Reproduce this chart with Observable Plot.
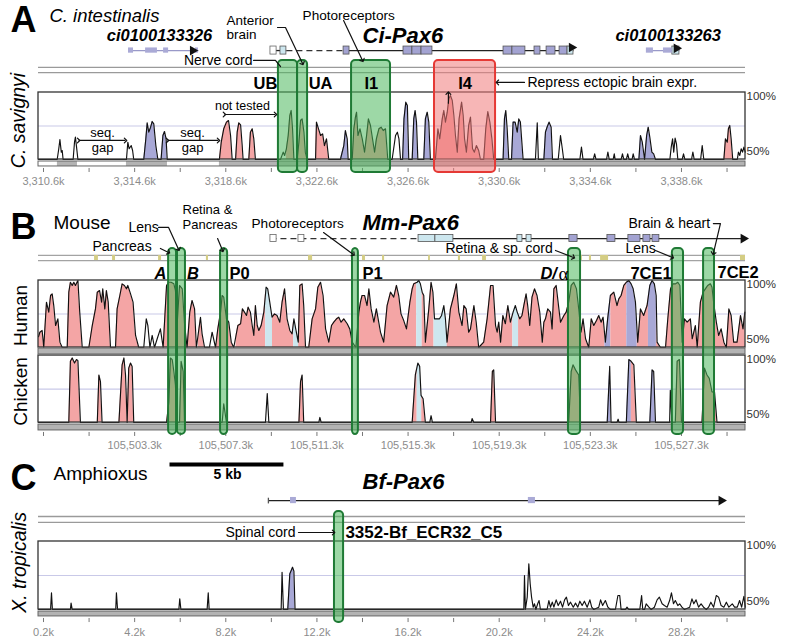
<!DOCTYPE html>
<html><head><meta charset="utf-8">
<script src="https://cdn.jsdelivr.net/npm/d3@7"></script>
<script src="https://cdn.jsdelivr.net/npm/@observablehq/plot@0.6"></script>
<style>
body{margin:0;background:#fff;}
#fig{position:relative;width:787px;height:643px;overflow:hidden;background:#fff;}
</style></head><body><div id="fig"></div>
<script>
// ---------- DATA (x in kb offset from the first labelled tick, y in % identity) ----------
const majorTicks = [0, 4, 8, 12, 16, 20, 24, 28];
const minorTicks = [2, 6, 10, 14, 18, 22, 26, 30];
const aTickLabels = ["3,310.6k","3,314.6k","3,318.6k","3,322.6k","3,326.6k","3,330.6k","3,334.6k","3,338.6k"];
const bTickLabels = ["","105,503.3k","105,507.3k","105,511.3k","105,515.3k","105,519.3k","105,523.3k","105,527.3k"];
const cTickLabels = ["0.2k","4.2k","8.2k","12.2k","16.2k","20.2k","24.2k","28.2k"];

// Panel A: C. intestinalis vs C. savignyi
const aCurve = [[-0.22,50],
[0.60,50],[0.67,58.0],[0.72,64.9],[0.78,55.5],[0.82,56.7],[0.86,50],
[1.30,50],[1.36,62.9],[1.40,66.7],[1.45,59.2],[1.51,50],
[3.64,50],[3.70,62.9],[3.76,58.0],[3.85,60.4],[3.91,56.7],[3.96,50],
[4.40,50],[4.49,65.4],[4.55,77.4],[4.62,70.4],[4.70,74.1],[4.77,78.4],[4.84,76.6],[4.93,60.4],[5.02,50],
[5.16,50],[5.24,67.9],[5.31,70.9],[5.38,65.4],[5.43,50],
[7.72,50],[7.80,62.9],[7.91,72.9],[8.03,77.9],[8.12,79.1],[8.21,67.9],[8.28,50],
[8.43,50],[8.50,70.4],[8.57,77.4],[8.65,75.9],[8.72,60.4],[8.76,50],
[9.01,50],[9.08,70.4],[9.16,72.9],[9.23,65.4],[9.30,50],
[10.40,50],[10.52,55.5],[10.58,53.0],[10.66,58.0],[10.74,67.9],[10.81,82.8],[10.87,86.6],[10.93,72.9],[10.99,50],
[11.13,50],[11.21,62.9],[11.28,79.1],[11.35,80.3],[11.43,70.4],[11.49,55.5],[11.57,50],
[11.94,50],[11.98,77.9],[12.07,72.9],[12.16,67.9],[12.25,69.1],[12.33,60.4],[12.42,65.4],[12.52,50],
[13.03,50],[13.18,60.4],[13.25,71.6],[13.33,65.4],[13.37,50],
[13.55,50],[13.62,72.9],[13.69,81.6],[13.74,85.3],[13.80,67.9],[13.89,72.9],[13.99,65.4],[14.09,55.5],[14.18,67.9],[14.26,80.3],[14.35,75.4],[14.44,65.4],[14.53,55.5],[14.61,65.4],[14.72,72.9],[14.82,74.1],[14.91,71.6],[15.01,72.9],[15.11,50],
[15.30,50],[15.45,67.9],[15.53,70.4],[15.60,65.4],[15.67,50],
[15.76,50],[15.82,80.3],[15.90,92.8],[15.97,90.3],[16.03,50],
[16.18,50],[16.25,80.3],[16.31,86.6],[16.37,77.9],[16.43,50],
[16.69,50],[16.76,80.3],[16.84,85.3],[16.91,77.9],[16.98,50],
[17.20,50],[17.31,72.9],[17.39,65.4],[17.50,80.3],[17.57,86.6],[17.64,77.9],[17.72,85.3],[17.79,95.3],[17.86,97.8],[17.94,94.0],[18.01,82.8],[18.08,67.9],[18.16,55.5],[18.24,80.3],[18.35,92.8],[18.42,82.8],[18.48,65.4],[18.56,55.5],[18.66,75.4],[18.74,81.6],[18.83,58.0],[18.91,55.5],[19.00,60.4],[19.10,56.7],[19.18,50],
[19.32,50],[19.41,72.9],[19.50,85.8],[19.59,77.9],[19.68,65.4],[19.76,50],
[20.17,50],[20.23,80.3],[20.29,86.6],[20.35,72.9],[20.42,50],
[20.54,50],[20.61,77.9],[20.70,77.9],[20.79,70.4],[20.86,80.3],[20.93,77.9],[21.05,50],
[21.59,50],[21.67,77.4],[21.72,50],
[21.96,50],[22.03,70.4],[22.10,74.1],[22.19,77.9],[22.28,74.1],[22.34,50],
[22.59,50],[22.69,67.9],[22.77,58.0],[22.83,50],
[23.54,50],[23.61,59.2],[23.68,50],
[24.13,50],[24.19,54.2],[24.25,50],
[24.71,50],[24.77,55.5],[24.83,50],
[25.00,50],[25.05,54.2],[25.09,50],
[25.35,50],[25.41,54.2],[25.47,50],
[25.58,50],[25.64,54.2],[25.70,50],
[25.83,50],[25.88,54.2],[25.94,50],
[26.13,50],[26.20,67.9],[26.28,62.9],[26.38,50],[26.47,67.9],[26.54,74.1],[26.61,66.7],[26.70,55.5],[26.78,54.2],[26.86,50],
[27.49,50],[27.55,59.2],[27.61,65.4],[27.66,55.5],[27.72,65.9],[27.78,61.7],[27.84,50],
[28.03,50],[28.09,54.2],[28.15,50],
[28.44,50],[28.50,55.5],[28.56,50],
[28.84,50],[28.91,60.4],[28.98,50],
[29.86,50],[29.93,65.4],[30.01,62.9],[30.06,72.9],[30.12,75.4],[30.18,65.4],[30.25,50],
[30.45,50],[30.50,55.5],[30.56,53.0],[30.62,58.0],[30.68,55.5],[30.74,59.2],[30.80,55.5]];
const aFills = [[4.40,5.43,"exon"],[7.72,9.30,"cns"],[10.66,11.57,"cns"],[11.94,12.52,"cns"],[13.03,13.37,"exon"],
[13.55,15.11,"cns"],[15.76,16.98,"exon"],[17.20,19.76,"cns"],[20.17,21.05,"exon"],[21.96,22.34,"exon"],[26.13,26.86,"exon"],[29.86,30.25,"cns"]];
const aSeqPresent = [[0.61,1.49],[3.64,5.44],[7.72,30.81]];
const aGeneLines = [[3.73,6.80,"pred"],[9.96,10.66,"solid"],[10.66,13.17,"dashed"],[13.17,23.26,"solid"],[26.46,27.91,"pred"]];
const aExons = [[3.73,3.95,"pred"],[4.48,5.00,"pred"],[5.27,5.49,"pred"],[6.67,6.80,"pred"],
[9.96,10.23,"open"],[10.40,10.66,"utr"],[13.17,13.43,"exon"],[15.80,16.19,"exon"],[16.19,16.59,"exon"],[16.59,17.07,"exon"],
[20.19,20.58,"exon"],[20.58,21.15,"exon"],[21.55,21.81,"exon"],[22.08,22.47,"exon"],[22.65,23.00,"exon"],[23.00,23.26,"utr"],
[26.46,26.77,"pred"],[27.21,27.60,"pred"],[27.60,27.91,"utr"]];
const aRegions = [{name:"UB",start:10.31,end:11.15,kind:"enh"},{name:"",start:11.15,end:11.59,kind:"enh"},
{name:"I1",start:13.52,end:15.23,kind:"enh"},{name:"I4",start:17.16,end:19.84,kind:"rep"}];

// Panel B: mouse vs human / chicken
const bHuman = [[-0.22,58],[-0.16,61.4],[-0.06,62.7],[0.01,50.2],[0.13,83.8],[0.23,76.4],[0.31,88.8],[0.38,90.0],[0.45,81.3],[0.53,66.4],[0.63,71.4],[0.72,54.0],[0.82,50],
[1.04,50],[1.11,91.3],[1.18,98.7],[1.26,96.3],[1.33,98.7],[1.40,96.3],[1.51,100],[1.59,76.4],[1.70,50],
[1.99,50],[2.14,66.4],[2.28,78.8],[2.36,91.3],[2.46,92.5],[2.55,83.8],[2.60,93.8],[2.69,78.8],[2.76,92.5],[2.84,83.8],[2.94,50],
[3.16,50],[3.23,78.8],[3.35,88.8],[3.45,97.5],[3.55,96.3],[3.64,93.8],[3.70,96.3],[3.82,90.0],[3.93,83.8],[4.04,59.0],[4.18,50],
[4.40,50],[4.51,71.4],[4.58,66.4],[4.67,50],[4.77,59.0],[4.87,50],[4.99,56.5],[5.13,63.9],[5.25,50],
[5.40,96.3],[5.50,98.7],[5.60,98.7],[5.72,97.5],[5.79,92.5],[5.87,68.9],[5.97,96.3],[6.09,93.8],[6.19,67.7],[6.30,50],
[6.42,76.4],[6.52,85.1],[6.63,78.8],[6.71,50],[6.89,72.6],[6.96,60.2],[7.07,50],[7.28,50],[7.40,61.4],[7.55,50],
[7.65,63.9],[7.77,76.4],[7.84,88.8],[7.91,87.6],[8.03,71.4],[8.13,68.9],[8.24,54.0],[8.35,50],
[8.53,66.4],[8.65,67.7],[8.73,78.8],[8.82,76.4],[8.91,73.9],[8.98,80.1],[9.08,76.4],[9.16,66.4],[9.23,59.0],[9.30,81.3],[9.38,66.4],[9.45,62.7],[9.55,66.4],[9.67,76.4],
[9.77,95.0],[9.84,93.8],[9.93,83.8],[10.03,72.6],[10.14,75.1],[10.25,73.9],[10.37,68.9],[10.47,83.8],[10.58,93.8],[10.69,71.4],[10.81,62.7],[10.91,60.2],[10.99,71.4],[11.07,63.9],[11.18,54.0],
[11.25,96.3],[11.35,97.5],[11.42,81.3],[11.50,50],[11.64,50],[11.79,71.4],[11.94,78.8],[12.04,95.0],[12.16,98.7],[12.27,88.8],[12.38,63.9],[12.52,54.0],
[12.64,66.4],[12.74,68.9],[12.86,71.4],[12.96,72.6],[13.06,68.9],[13.18,71.4],[13.33,67.7],[13.44,63.9],[13.55,54.0],[13.71,50],
[13.84,76.4],[13.91,83.8],[13.98,88.8],[14.09,88.8],[14.20,81.3],[14.28,93.8],[14.38,78.8],[14.50,68.9],[14.61,78.8],
[14.79,61.4],[14.93,54.0],[15.08,81.3],[15.23,91.3],[15.37,87.6],[15.49,96.3],[15.59,88.8],[15.69,75.1],[15.81,70.1],[15.93,63.9],
[16.08,83.8],[16.18,93.8],[16.25,97.5],[16.40,98.7],[16.47,100],[16.54,97.5],[16.62,91.3],[16.69,88.8],[16.76,54.0],[16.91,78.8],
[17.01,98.7],[17.09,91.3],[17.16,71.4],[17.28,71.4],[17.38,71.4],[17.47,73.9],[17.57,81.3],[17.64,71.4],[17.71,54.0],[17.86,78.8],
[18.01,88.8],[18.12,97.5],[18.23,76.4],[18.37,66.4],[18.45,81.3],[18.55,78.8],[18.66,61.4],[18.74,63.9],[18.89,81.3],[18.99,68.9],
[19.10,50],[19.32,54.0],[19.47,71.4],[19.62,96.3],[19.73,96.3],[19.84,66.4],[19.91,61.4],[19.98,68.9],[20.06,54.0],[20.16,73.9],
[20.27,67.7],[20.38,81.3],[20.49,68.9],[20.61,76.4],[20.71,81.3],[20.79,76.4],[20.90,71.4],[21.00,73.9],[21.08,81.3],[21.18,90.0],
[21.25,81.3],[21.34,66.4],[21.44,87.6],[21.55,93.8],[21.66,88.8],[21.78,76.4],[21.89,54.0],[21.96,68.9],[22.03,71.4],[22.13,78.8],
[22.25,76.4],[22.32,63.9],[22.40,93.8],[22.50,96.3],[22.62,78.8],[22.69,68.9],[22.84,73.9],[22.94,76.4],[23.05,83.8],[23.16,96.3],
[23.27,98.7],[23.39,93.8],[23.49,78.8],[23.59,61.4],[23.68,71.4],[23.79,56.5],[23.93,50],[24.04,71.4],[24.15,66.4],[24.27,70.1],
[24.37,73.9],[24.47,68.9],[24.56,72.6],[24.66,54.0],[24.76,71.4],[24.88,88.8],[25.03,91.3],[25.17,81.3],[25.25,86.3],[25.35,88.8],
[25.47,96.3],[25.58,98.7],[25.69,100],[25.79,97.5],[25.88,93.8],[25.98,83.8],[26.08,54.0],[26.20,78.8],[26.34,73.9],[26.49,81.3],
[26.61,96.3],[26.71,100],[26.81,97.5],[26.89,88.8],[26.93,54.0],[27.08,50],[27.30,50],[27.40,71.4],[27.52,93.8],[27.63,97.5],
[27.74,97.5],[27.84,98.7],[27.93,96.3],[28.03,54.0],[28.13,71.4],[28.25,68.9],[28.39,71.4],[28.47,56.5],[28.61,66.4],[28.69,50],
[28.83,83.8],[28.95,91.3],[29.05,93.8],[29.15,96.3],[29.27,97.5],[29.34,95.0],[29.41,83.8],[29.53,68.9],[29.63,59.0],[29.74,63.9],
[29.86,54.0],[29.97,50],[30.08,78.8],[30.18,73.9],[30.29,54.0],[30.44,54.0],[30.59,73.9],[30.70,63.9],[30.78,76.4]];
const bHumanFills = [[-0.22,0.85,"cns"],[1.04,1.72,"cns"],[1.99,2.95,"cns"],[3.16,4.18,"cns"],[5.25,6.30,"cns"],[6.30,6.71,"cns"],[6.80,7.07,"cns"],
[7.60,8.35,"cns"],[8.45,9.75,"cns"],[9.75,10.05,"utr"],[10.05,10.98,"cns"],[10.98,11.20,"utr"],[11.20,11.50,"cns"],
[11.64,13.71,"cns"],[13.71,16.38,"cns"],[16.38,16.62,"utr"],[16.62,17.14,"cns"],[17.14,17.72,"utr"],[17.72,20.60,"cns"],
[20.60,20.85,"utr"],[20.85,24.64,"cns"],[24.64,24.90,"exon"],[24.90,25.60,"cns"],[25.60,26.06,"exon"],[26.06,26.55,"cns"],
[26.55,26.90,"exon"],[26.90,30.81,"cns"]];
const bChicken = [[-0.22,50],
[1.11,50],[1.18,95.7],[1.26,98.2],[1.36,94.4],[1.45,97.0],[1.51,96.2],[1.62,50],
[2.36,50],[2.43,85.5],[2.50,80.5],[2.57,50],
[3.31,50],[3.45,93.1],[3.53,98.2],[3.60,85.5],[3.67,50],[3.74,90.6],[3.82,94.4],[3.89,91.9],[3.96,50],
[5.40,50],[5.50,65.2],[5.57,98.2],[5.65,97.0],[5.72,88.1],[5.79,77.9],[5.87,50],[5.97,50],[6.04,95.7],[6.13,88.1],[6.19,50],
[7.84,50],[7.91,64.0],[8.03,50],[9.74,50],[9.82,71.6],[9.89,50],
[11.21,50],[11.28,80.5],[11.35,85.5],[11.42,50],[12.08,50],[12.13,53.8],[12.19,50],
[16.18,50],[16.32,85.5],[16.43,94.4],[16.51,91.9],[16.57,70.3],[16.66,67.8],[16.76,50],[16.95,50],[17.01,55.1],[17.07,50],
[18.77,50],[18.81,53.0],[18.89,50],[19.62,50],[19.70,88.1],[19.76,89.3],[19.84,50],
[23.05,50],[23.16,88.1],[23.24,93.1],[23.35,89.3],[23.49,85.5],[23.57,50],
[24.74,50],[24.85,91.9],[24.91,50],[25.17,50],[25.22,52.5],[25.26,50],
[25.58,50],[25.69,97.0],[25.79,95.7],[25.91,93.1],[26.02,50],[26.61,50],[26.71,89.3],[26.78,88.1],[26.86,50],
[27.48,50],[27.51,74.1],[27.58,50],[27.73,50],[27.81,95.7],[27.91,97.0],[28.00,50],
[28.90,50],[29.01,90.6],[29.12,85.5],[29.22,83.0],[29.34,72.8],[29.45,72.8],[29.56,50],[30.81,50]];
const bChickenFills = [[1.11,1.62,"cns"],[2.36,2.57,"cns"],[3.31,3.96,"cns"],[5.40,5.87,"cns"],[5.97,6.19,"cns"],[11.21,11.42,"cns"],
[16.18,16.40,"cns"],[16.40,16.60,"utr"],[16.60,16.76,"cns"],[19.62,19.84,"cns"],[23.05,23.57,"cns"],
[24.74,24.91,"exon"],[25.58,25.80,"exon"],[25.80,26.02,"cns"],[26.61,26.86,"exon"],[27.73,28.00,"cns"],[28.90,29.56,"cns"]];
const bConserved = [[2.24,2.41],[3.03,3.16],[5.05,5.18],[7.15,7.24],[11.63,11.81],[14.0,14.13],[14.88,14.97],[16.90,16.98],
[18.21,18.30],[19.27,19.44],[23.57,23.65],[23.96,24.05],[24.45,24.80],[30.59,30.81]];
const bGeneLines = [[9.96,16.46,"dashed"],[16.46,30.80,"solid"]];
const bExons = [[9.96,10.23,"open"],[11.19,11.45,"open"],[16.46,17.20,"utr"],[17.20,17.99,"utr"],[20.80,21.02,"utr"],[21.20,21.42,"utr"],
[23.08,23.44,"exon"],[24.75,25.10,"exon"],[25.67,26.20,"exon"],[26.33,26.64,"exon"],[26.73,27.03,"exon"]];
const bRegions = [{name:"A",start:5.49,end:5.84},{name:"B",start:5.88,end:6.23},{name:"P0",start:7.77,end:8.08},{name:"P1",start:13.56,end:13.82},
{name:"D/α",start:23.04,end:23.57},{name:"7CE1",start:27.60,end:28.09},{name:"7CE2",start:28.97,end:29.45}];

// Panel C: amphioxus vs X. tropicalis
const cCurve = [[-0.22,50],[0.31,50],[0.35,62.3],[0.39,50],[1.18,50],[1.21,54.7],[1.26,50],[3.17,50],[3.20,62.3],[3.25,50],
[5.94,50],[5.98,57.8],[6.03,50],[7.18,50],[7.23,62.3],[7.27,50],[10.43,50],[10.47,77.4],[10.53,50],
[10.72,50],[10.81,76.2],[10.93,81.1],[10.99,78.2],[11.04,50],
[21.08,50],[21.11,75.0],[21.15,50],[21.23,59.1],[21.30,83.6],[21.36,68.9],[21.42,59.1],[21.49,51.7],[21.55,54.2],[21.61,50],
[21.69,54.2],[21.75,56.6],[21.81,50],[22.10,50],[22.18,56.6],[22.25,51.7],[22.33,55.4],[22.40,51.7],[22.50,57.1],[22.59,52.9],
[22.69,56.1],[22.78,51.7],[22.87,57.1],[22.95,59.1],[23.04,52.9],[23.13,55.4],[23.25,51.7],[23.35,54.7],[23.45,51.7],[23.54,56.1],
[23.64,52.9],[23.74,56.1],[23.86,51.7],[23.98,57.1],[24.06,51.7],[24.15,50],[24.37,51.7],[24.45,57.1],[24.54,52.9],[24.66,56.6],
[24.77,51.7],[24.88,50],[25.10,50],[25.21,60.3],[25.29,60.3],[25.35,50],[25.54,50],[25.61,51.7],[25.69,50],[26.17,50],[26.25,60.3],
[26.30,50],[26.38,50],[26.45,54.2],[26.57,51.7],[26.67,50],[26.81,51.7],[26.93,57.1],[27.03,59.1],[27.15,54.2],[27.25,52.9],
[27.37,51.7],[27.48,56.6],[27.56,62.3],[27.65,54.2],[27.73,56.6],[27.84,52.9],[27.92,54.2],[28.02,51.7],[28.13,50],[28.36,51.7],
[28.46,57.8],[28.54,54.2],[28.64,57.1],[28.75,51.7],[28.86,54.2],[28.97,51.7],[29.09,50],[29.19,51.7],[29.29,55.4],[29.41,51.7],
[29.53,60.3],[29.63,59.1],[29.74,52.9],[29.86,51.7],[29.97,55.4],[30.08,51.7],[30.23,54.2],[30.33,51.7],[30.45,51.7],[30.55,56.6],
[30.64,51.7],[30.74,59.6],[30.80,51.7]];
const cFills = [[10.72,11.04,"exon"]];
const cGeneLines = [[9.87,29.80,"solid"]];
const cExons = [[10.84,11.10,"pred"],[21.28,21.59,"pred"]];
const cRegions = [{name:"3352-Bf_ECR32_C5",start:12.77,end:13.17}];

// ---------- STYLE / HELPERS ----------
const FONT = '"Liberation Sans", Arial, Helvetica, sans-serif';
const DOMAIN = [-0.22, 30.81];
const FILL = {cns: "#f4a5a5", exon: "#a8a8d6", utr: "#cde7ef"};
const EXON_STYLE = {
  exon: {fill: "#a3a3d2", stroke: "#555", strokeWidth: 0.8},
  utr: {fill: "#cde7ef", stroke: "#555", strokeWidth: 0.8},
  open: {fill: "#fff", stroke: "#666", strokeWidth: 0.8},
  pred: {fill: "#aaaad6"}
};
const fig = document.getElementById("fig");

function T(text, x, y, o = {}) {
  return Plot.text([{text, x, y}], {x: "x", y: "y", text: "text", fontSize: 14, ...o});
}
function interp(pts, x) {
  for (let i = 0; i < pts.length - 1; i++) {
    const [x0, y0] = pts[i], [x1, y1] = pts[i + 1];
    if (x >= x0 && x <= x1) return x1 === x0 ? y0 : y0 + (y1 - y0) * (x - x0) / (x1 - x0);
  }
  return 50;
}
function trackMarks(curve, fills, shift = 0) {
  const m = [Plot.ruleY([75 - shift], {stroke: "#c9c9e8", strokeWidth: 1.2})];
  for (const [s, e, t] of fills) {
    const seg = [[s, interp(curve, s)], ...curve.filter(p => p[0] > s && p[0] < e), [e, interp(curve, e)]];
    m.push(Plot.areaY(seg, {x: d => d[0], y1: () => 50 - shift, y2: d => d[1] - shift, fill: FILL[t]}));
  }
  m.push(Plot.line(curve, {x: d => d[0], y: d => d[1] - shift, stroke: "#111", strokeWidth: 1.15}));
  m.push(Plot.rect([0], {x1: DOMAIN[0], x2: DOMAIN[1], y1: 50 - shift, y2: 100 - shift, fill: "none", stroke: "#333", strokeWidth: 1.3}));
  m.push(T("100%", DOMAIN[1], 100 - shift, {textAnchor: "start", dx: 1, dy: 4, fontSize: 11.5, fill: "#333"}));
  m.push(T("50%", DOMAIN[1], 50 - shift, {textAnchor: "start", dx: 1, dy: -8, fontSize: 11.5, fill: "#333"}));
  return m;
}
function seqBar(y1, y2, segs) {
  return [
    Plot.rect(segs, {x1: d => d[0], x2: d => d[1], y1: () => y1, y2: () => y2, fill: "#b3b3b3"}),
    Plot.rect([0], {x1: DOMAIN[0], x2: DOMAIN[1], y1, y2, fill: "none", stroke: "#666", strokeWidth: 1})
  ];
}
function axisMarks(yTop, yBot, yLab, labels) {
  return [
    Plot.ruleX(majorTicks, {y1: yTop, y2: yBot, stroke: "#777"}),
    Plot.ruleX(minorTicks, {y1: yTop, y2: yBot, stroke: "#777"}),
    Plot.text(majorTicks, {x: d => d, y: yLab, text: (d, i) => labels[i], fill: "#8c8c8c", fontSize: 11})
  ];
}
function geneMarks(lines, exons, y, h) {
  const m = [];
  m.push(Plot.link(lines.filter(d => d[2] !== "dashed"), {x1: d => d[0], x2: d => d[1], y1: () => y, y2: () => y,
    stroke: d => d[2] === "pred" ? "#9999c8" : "#222", strokeWidth: 1.3}));
  m.push(Plot.link(lines.filter(d => d[2] === "dashed"), {x1: d => d[0], x2: d => d[1], y1: () => y, y2: () => y,
    stroke: "#333", strokeWidth: 1.3, strokeDasharray: "6,4"}));
  for (const t of Object.keys(EXON_STYLE)) {
    const hh = t === "pred" ? h * 0.65 : h;
    m.push(Plot.rect(exons.filter(d => d[2] === t), {x1: d => d[0], x2: d => d[1], y1: () => y - hh, y2: () => y + hh, ...EXON_STYLE[t]}));
  }
  return m;
}
function arrowHead(x, y) {
  return Plot.dot([{x, y}], {x: "x", y: "y", symbol: "triangle", rotate: 90, r: 3.6, fill: "#111", stroke: "none"});
}
function leader(points, end = true) {
  return Plot.line(points, {x: d => d[0], y: d => d[1], stroke: "#111", strokeWidth: 1.2, markerEnd: end ? "arrow" : "none"});
}
function dbl(x1, x2, y) {
  return Plot.link([0], {x1, x2, y1: y, y2: y, stroke: "#111", strokeWidth: 1.2, markerStart: "arrow", markerEnd: "arrow"});
}
function boxes(regions, y1, y2, fill, stroke) {
  return Plot.rect(regions, {x1: "start", x2: "end", y1: () => y1, y2: () => y2, rx: 4, fill, fillOpacity: 0.55, stroke, strokeWidth: 2});
}
function addPanel(top, height, yTop, yBase, marks) {
  const svg = Plot.plot({
    width: 787, height, marginLeft: 38, marginRight: 42, marginTop: yTop, marginBottom: height - yBase,
    x: {domain: DOMAIN, axis: null}, y: {domain: [50, 100], axis: null},
    style: {fontFamily: FONT, background: "none", overflow: "visible"},
    marks
  });
  const div = document.createElement("div");
  div.style.position = "absolute"; div.style.left = "0px"; div.style.top = top + "px";
  div.appendChild(svg); fig.appendChild(div);
}
const BI = {fontWeight: "bold", fontStyle: "italic"};

// ---------- PANEL A ----------
addPanel(0, 195, 92, 159, [
  Plot.ruleY([118.7, 114.9], {stroke: "#9a9a9a", strokeWidth: 1.3}),
  ...trackMarks(aCurve, aFills),
  ...seqBar(48.5, 44.8, aSeqPresent),
  ...axisMarks(43.3, 40.3, 33.6, aTickLabels),
  ...geneMarks(aGeneLines, aExons, 131.3, 3),
  arrowHead(6.55, 131.3), arrowHead(23.18, 133.6), arrowHead(27.78, 133.0),
  boxes(aRegions.filter(d => d.kind === "enh"), 40.3, 123.9, "#4cb85c", "#1f7a35"),
  boxes(aRegions.filter(d => d.kind === "rep"), 40.3, 123.9, "#f07a7a", "#e53935"),
  T("A", -1.45, 153.7, {fontSize: 36, fontWeight: "bold", textAnchor: "start"}),
  T("C. intestinalis", 0.26, 156.7, {fontSize: 18.5, fontStyle: "italic", textAnchor: "start"}),
  T("ci0100133326", 5.09, 142.5, {fontSize: 16.5, ...BI}),
  T("Anterior", 8.03, 153.6, {fontSize: 13.5, textAnchor: "start"}),
  T("brain", 8.03, 143.0, {fontSize: 13.5, textAnchor: "start"}),
  T("Photoreceptors", 11.37, 157.5, {fontSize: 13.6, textAnchor: "start"}),
  T("Ci-Pax6", 14.0, 142.5, {fontSize: 22, ...BI, textAnchor: "start"}),
  T("ci0100133263", 25.10, 142.5, {fontSize: 16.5, ...BI, textAnchor: "start"}),
  T("Nerve cord", 9.17, 123.9, {textAnchor: "end"}),
  T("UB", 9.74, 106.7, {fontSize: 16.5, fontWeight: "bold"}),
  T("UA", 12.16, 106.7, {fontSize: 16.5, fontWeight: "bold"}),
  T("I1", 14.39, 106.7, {fontSize: 16.5, fontWeight: "bold"}),
  T("I4", 18.50, 106.7, {fontSize: 16.5, fontWeight: "bold"}),
  T("Repress ectopic brain expr.", 21.24, 107.5, {textAnchor: "start"}),
  T("not tested", 8.73, 89.6, {fontSize: 12.5}),
  T("seq.", 2.59, 70.1, {fontSize: 13}), T("gap", 2.59, 59.0, {fontSize: 13}),
  T("seq.", 6.54, 70.1, {fontSize: 13}), T("gap", 6.54, 59.0, {fontSize: 13}),
  T("C. savignyi", -1.10, 79.1, {fontSize: 19.5, fontStyle: "italic", rotate: -90}),
  leader([[9.22, 123.9], [10.18, 123.9], [10.40, 119.4]], false),
  leader([[10.27, 148.5], [10.62, 148.5], [11.37, 121.6]]),
  leader([[13.17, 153.7], [14.0, 123.9]]),
  leader([[21.11, 107.5], [19.92, 107.5]]),
  leader([[17.77, 92.0], [17.77, 99.5]]),
  dbl(7.94, 10.18, 83.6), dbl(1.54, 3.60, 64.2), dbl(5.44, 7.68, 64.2)
]);

// ---------- PANEL B ----------
const CH = 56; // vertical offset of chicken track (in % units)
addPanel(195, 255, 85, 152, [
  Plot.ruleY([118.7, 114.9], {stroke: "#a3a3a3", strokeWidth: 1.3}),
  Plot.rect(bConserved, {x1: d => d[0], x2: d => d[1], y1: () => 114.9, y2: () => 118.7, fill: "#d4cd84"}),
  ...trackMarks(bHuman, bHumanFills, 0),
  ...trackMarks(bChicken, bChickenFills, CH),
  ...seqBar(49.25, 44.8, [DOMAIN]),
  ...seqBar(-7.5, -11.9, [DOMAIN]),
  ...axisMarks(-13.4, -16.4, -23.1, bTickLabels),
  ...geneMarks(bGeneLines, bExons, 131.3, 2.6),
  arrowHead(30.72, 131.3),
  boxes(bRegions, -14.9, 123.9, "#4cb85c", "#1f7a35"),
  T("B", -1.45, 139.9, {fontSize: 36, fontWeight: "bold", textAnchor: "start"}),
  T("Mouse", 0.44, 143.3, {fontSize: 19, textAnchor: "start"}),
  T("Lens", 3.73, 139.6, {textAnchor: "start"}),
  T("Retina &", 6.10, 152.8, {fontSize: 13, textAnchor: "start"}),
  T("Pancreas", 6.10, 141.2, {fontSize: 13, textAnchor: "start"}),
  T("Photoreceptors", 9.13, 142.5, {fontSize: 13.6, textAnchor: "start"}),
  T("Mm-Pax6", 14.0, 143.3, {fontSize: 22, ...BI, textAnchor: "start"}),
  T("Pancreas", 2.15, 125.4, {textAnchor: "start"}),
  T("Brain & heart", 25.67, 142.5, {textAnchor: "start"}),
  T("Retina & sp. cord", 17.64, 123.9, {textAnchor: "start"}),
  T("Lens", 25.54, 123.9, {textAnchor: "start"}),
  T("A", 5.13, 105.2, {fontSize: 16.5, ...BI}),
  T("B", 6.56, 105.2, {fontSize: 16.5, ...BI}),
  T("P0", 8.16, 105.2, {fontSize: 16.5, fontWeight: "bold", textAnchor: "start"}),
  T("P1", 14.0, 105.2, {fontSize: 16.5, fontWeight: "bold", textAnchor: "start"}),
  T("D/", 21.81, 105.2, {fontSize: 16.5, ...BI, textAnchor: "start"}),
  T("α", 22.60, 105.2, {fontSize: 19, fontFamily: '"Liberation Serif", "Times New Roman", serif', textAnchor: "start"}),
  T("7CE1", 25.76, 105.2, {fontSize: 16.5, fontWeight: "bold", textAnchor: "start"}),
  T("7CE2", 29.58, 105.8, {fontSize: 16.5, fontWeight: "bold", textAnchor: "start"}),
  T("Human", -1.01, 73.9, {fontSize: 19, rotate: -90}),
  T("Chicken", -1.01, 17.2, {fontSize: 19, rotate: -90}),
  leader([[5.05, 139.6], [5.49, 139.6], [5.93, 123.2]]),
  leader([[7.64, 131.3], [7.86, 122.4]]),
  leader([[12.29, 135.8], [13.60, 119.4]]),
  leader([[5.13, 123.9], [5.49, 120.9]]),
  leader([[29.40, 142.5], [29.71, 142.5], [29.40, 120.2]]),
  leader([[22.47, 122.4], [23.26, 117.2]]),
  leader([[26.86, 122.4], [27.60, 117.2]])
]);

// ---------- PANEL C ----------
addPanel(450, 193, 91, 159, [
  Plot.ruleY([118.4, 114.0], {stroke: "#9a9a9a", strokeWidth: 1.3}),
  ...trackMarks(cCurve, cFills),
  ...seqBar(48.5, 44.9, [DOMAIN]),
  ...axisMarks(43.4, 40.4, 33.1, cTickLabels),
  ...geneMarks(cGeneLines, cExons, 130.1, 3.5),
  Plot.link([0], {x1: 9.87, x2: 9.87, y1: 128.0, y2: 132.2, stroke: "#555", strokeWidth: 1.3}),
  arrowHead(29.75, 130.1),
  boxes(cRegions, 40.4, 122.1, "#4cb85c", "#1f7a35"),
  Plot.link([0], {x1: 5.53, x2: 10.53, y1: 156.6, y2: 156.6, stroke: "#000", strokeWidth: 4}),
  T("5 kb", 8.08, 149.3, {fontWeight: "bold"}),
  T("C", -1.45, 146.3, {fontSize: 36, fontWeight: "bold", textAnchor: "start"}),
  T("Amphioxus", 0.44, 150.0, {fontSize: 19, textAnchor: "start"}),
  T("Bf-Pax6", 14.0, 144.1, {fontSize: 22, ...BI, textAnchor: "start"}),
  T("Spinal cord", 11.06, 106.6, {textAnchor: "end"}),
  leader([[11.19, 106.6], [12.73, 106.6]]),
  T("3352-Bf_ECR32_C5", 13.25, 106.6, {fontSize: 17, fontWeight: "bold", textAnchor: "start"}),
  T("X. tropicalis", -1.05, 84.6, {fontSize: 19.5, fontStyle: "italic", rotate: -90})
]);
</script></body></html>
